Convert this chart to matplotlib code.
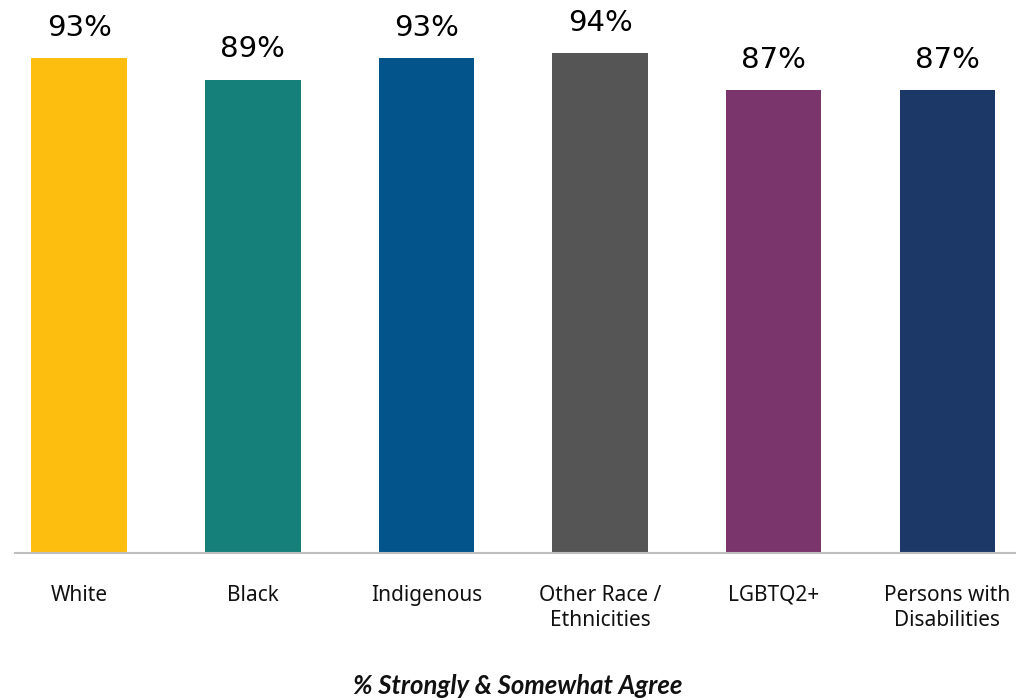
import matplotlib
matplotlib.use("Agg")
import matplotlib.pyplot as plt

categories = ["White", "Black", "Indigenous", "Other Race /\nEthnicities", "LGBTQ2+", "Persons with\nDisabilities"]
values = [93, 89, 93, 94, 87, 87]
labels = ["93%", "89%", "93%", "94%", "87%", "87%"]
colors = ["#FDBE10", "#15807A", "#02548A", "#555555", "#7A356D", "#1C3867"]
xlabel = "% Strongly & Somewhat Agree"

W, H = 1035, 700
fig = plt.figure(figsize=(W / 100, H / 100), dpi=100)
ax = fig.add_axes([15 / W, (H - 553) / H, (1015 - 15) / W, 553 / H])

x = list(range(len(categories)))
ax.bar(x, values, width=0.55, color=colors, zorder=2)
ax.set_xlim(-0.37, 5.39)
ax.set_ylim(0, 104)

for xi, v, lab in zip(x, values, labels):
    ax.annotate(lab, (xi, v), xytext=(0, 12), textcoords="offset points",
                ha="center", va="bottom", fontsize=21, family="DejaVu Sans", color="#000000")

for s in ["top", "right", "left"]:
    ax.spines[s].set_visible(False)
ax.spines["bottom"].set_color("#BFBFBF")
ax.spines["bottom"].set_linewidth(1.5)
ax.set_yticks([])
ax.set_xticks(x)
ax.set_xticklabels(categories, fontsize=15, family="Noto Sans", color="#111111", linespacing=1.25, va="top")
ax.tick_params(axis="x", length=0, pad=23)

fig.text(518 / W, 1 - 686 / H, xlabel, ha="center", va="center", fontsize=18.5,
         fontweight="bold", fontstyle="italic", family="Lato", color="#111111")

fig.savefig("out.png", dpi=100, facecolor="white")
